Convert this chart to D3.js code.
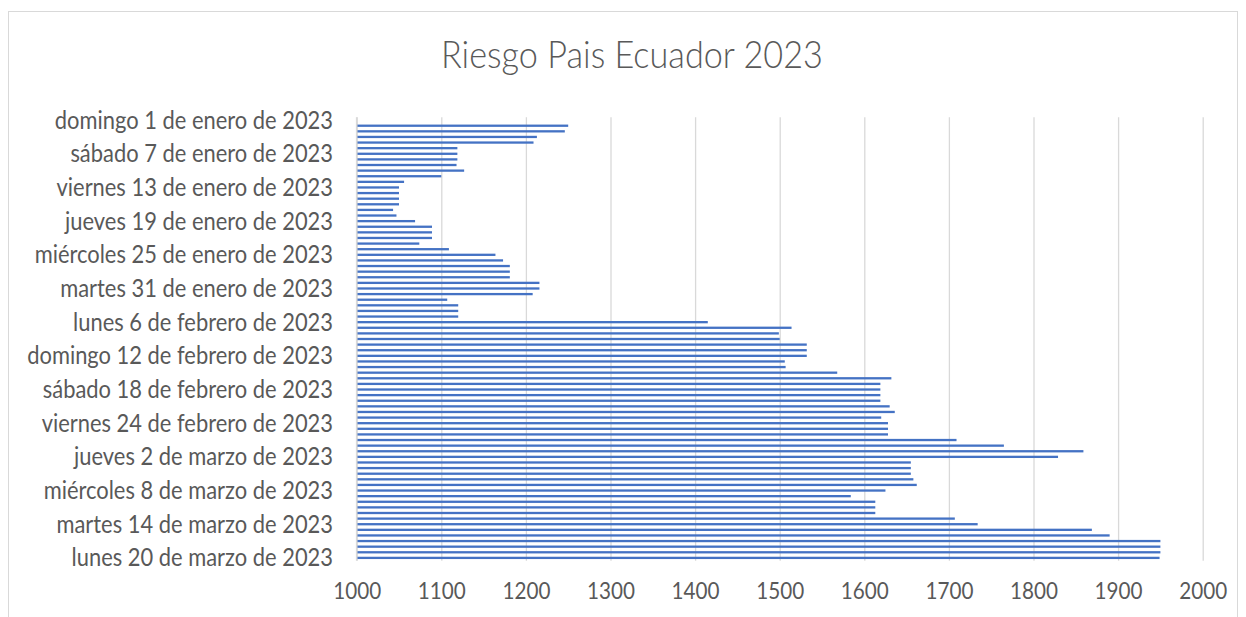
<!DOCTYPE html>
<html>
<head>
<meta charset="utf-8">
<script src="https://cdn.jsdelivr.net/npm/d3@7"></script>
<style>
  html, body { margin: 0; padding: 0; background: #ffffff; }
  svg { display: block; }
</style>
</head>
<body>
<svg id="chart" width="1246" height="617"></svg>
<script>
// ---- Data ----
const title = "Riesgo Pais Ecuador 2023";
const startDate = "2023-01-01";
const endDate = "2023-03-20";
const dayNames = ["domingo", "lunes", "martes", "miércoles", "jueves", "viernes", "sábado"];
const monthNames = ["enero", "febrero", "marzo"];
// one value per day, Jan 1 .. Mar 20 (Jan 1 has no value)
const values = [
  null, 1250, 1246, 1213, 1209, 1119, 1119, 1119, 1118, 1127,
  1100, 1056, 1050, 1050, 1050, 1050, 1043, 1047, 1069, 1089,
  1089, 1089, 1074, 1109, 1164, 1173, 1181, 1181, 1181, 1216,
  1216, 1208, 1107, 1120, 1120, 1120, 1415, 1514, 1499, 1500,
  1532, 1532, 1532, 1506, 1507, 1568, 1632, 1619, 1619, 1619,
  1619, 1630, 1636, 1620, 1628, 1628, 1628, 1709, 1765, 1859,
  1829, 1655, 1655, 1655, 1658, 1662, 1625, 1584, 1613, 1613,
  1613, 1707, 1734, 1869, 1890, 1950, 1950, 1950, 1949
];
const tickLabels = [
  "domingo 1 de enero de 2023",
  "sábado 7 de enero de 2023",
  "viernes 13 de enero de 2023",
  "jueves 19 de enero de 2023",
  "miércoles 25 de enero de 2023",
  "martes 31 de enero de 2023",
  "lunes 6 de febrero de 2023",
  "domingo 12 de febrero de 2023",
  "sábado 18 de febrero de 2023",
  "viernes 24 de febrero de 2023",
  "jueves 2 de marzo de 2023",
  "miércoles 8 de marzo de 2023",
  "martes 14 de marzo de 2023",
  "lunes 20 de marzo de 2023"
];
const xTicks = [1000, 1100, 1200, 1300, 1400, 1500, 1600, 1700, 1800, 1900, 2000];
const xDomain = [1000, 2000];

// ---- Categories ----
const parse = d3.timeParse("%Y-%m-%d");
const days = d3.timeDay.range(parse(startDate), d3.timeDay.offset(parse(endDate), 1));
const fmt = d => `${dayNames[d.getDay()]} ${d.getDate()} de ${monthNames[d.getMonth()]} de ${d.getFullYear()}`;
const categories = days.map(fmt);
const data = categories.map((c, i) => ({ cat: c, value: values[i] }));

// ---- Layout ----
const svg = d3.select("#chart");
const FONT = "Lato, 'Open Sans', sans-serif";
const TEXT = "#595959";
const GRID = "#d9d9d9";
const BAR = "#4472C4";
const SQ = 1.1; // horizontal squeeze to mimic a narrower face

const plot = { left: 356.7, right: 1202.7, top: 117.3, bottom: 560.7 };

const x = d3.scaleLinear().domain(xDomain).range([plot.left, plot.right]);
const y = d3.scaleBand().domain(categories).range([plot.top, plot.bottom]).paddingInner(0).paddingOuter(0);

// chart frame
svg.append("rect")
  .attr("x", 8.5).attr("y", 11.5)
  .attr("width", 1229).attr("height", 640)
  .attr("fill", "none").attr("stroke", GRID).attr("stroke-width", 1);

// helper to fit font size to a target width (after squeeze)
function fitSize(text, targetWidth, weight, base) {
  const t = svg.append("text").attr("font-family", FONT).attr("font-weight", weight)
    .attr("font-size", base).text(text);
  const w = t.node().getComputedTextLength();
  t.remove();
  return SQ * base * targetWidth / w;
}

// title
const titleSize = fitSize(title, 382, 300, 30);
svg.append("g").attr("transform", `translate(632,68) scale(${1 / SQ},1)`)
  .append("text")
  .attr("text-anchor", "middle")
  .attr("font-family", FONT).attr("font-weight", 300)
  .attr("font-size", titleSize)
  .attr("fill", TEXT)
  .text(title);

// gridlines
const gx = svg.append("g")
  .attr("transform", `translate(0,${plot.top})`)
  .call(d3.axisBottom(x).tickValues(xTicks).tickSize(plot.bottom - plot.top).tickFormat(""));
gx.select(".domain").remove();
gx.selectAll(".tick line").attr("stroke", GRID).attr("stroke-width", 1.3);

// x tick labels
const xSize = fitSize("1000", 48, 400, 20);
const xa = svg.append("g")
  .attr("transform", `translate(0,${plot.bottom})`)
  .call(d3.axisBottom(x).tickValues(xTicks).tickSize(0).tickPadding(0).tickFormat(d3.format("d")));
xa.select(".domain").remove();
xa.selectAll(".tick text")
  .attr("y", 0).attr("dy", 0)
  .attr("transform", `translate(0,${599 - plot.bottom}) scale(${1 / SQ},1)`)
  .attr("font-family", FONT).attr("font-size", xSize).attr("fill", TEXT);

// bars
svg.append("g").selectAll("rect")
  .data(data.filter(d => d.value != null))
  .join("rect")
  .attr("x", x(xDomain[0]))
  .attr("y", d => y(d.cat) + y.bandwidth() / 2 - 1.15)
  .attr("width", d => x(d.value) - x(xDomain[0]))
  .attr("height", 2.3)
  .attr("fill", BAR);

// left axis line
svg.append("line")
  .attr("x1", x(xDomain[0])).attr("x2", x(xDomain[0]))
  .attr("y1", plot.top).attr("y2", plot.bottom)
  .attr("stroke", GRID).attr("stroke-width", 1.6);

// y tick labels
const ySize = fitSize("domingo 12 de febrero de 2023", 306, 400, 20);
const ya = svg.append("g")
  .attr("transform", `translate(333,0)`)
  .call(d3.axisLeft(y).tickValues(tickLabels).tickSize(0).tickPadding(0));
ya.select(".domain").remove();
ya.selectAll(".tick text")
  .attr("x", 0).attr("dy", "0.35em")
  .attr("transform", `scale(${1 / SQ},1)`)
  .attr("font-family", FONT).attr("font-size", ySize).attr("fill", TEXT);
</script>
</body>
</html>
